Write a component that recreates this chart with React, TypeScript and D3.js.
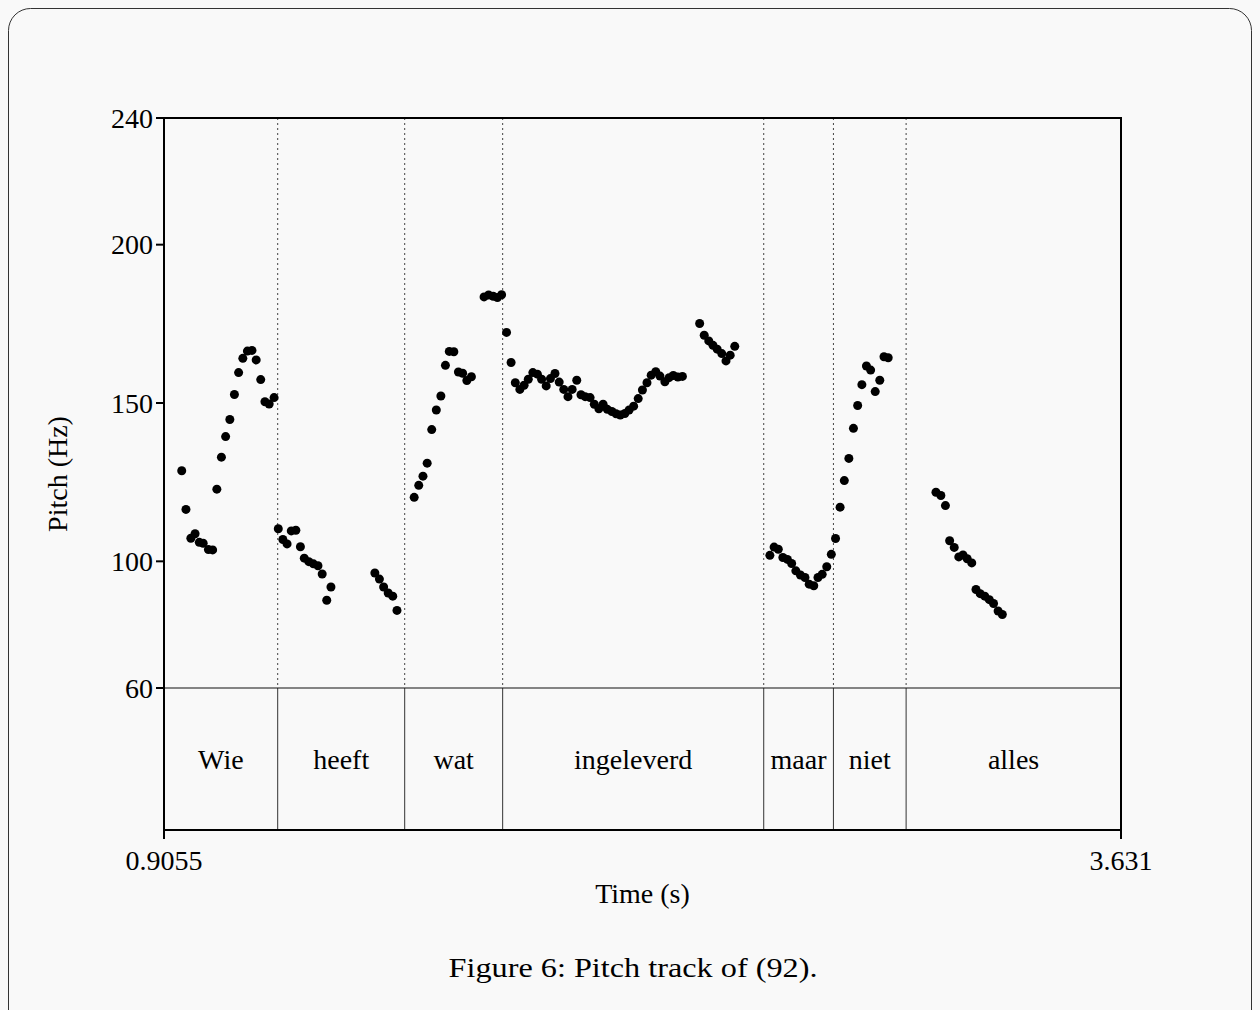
import React from "react";
import * as d3 from "d3";

// pitch track samples: [time (s), pitch (Hz)]
const pitchWie = [
  [0.956, 128.6], [0.968, 116.4], [0.982, 107.3], [0.994, 108.7], [1.006, 106.0],
  [1.017, 105.7], [1.032, 103.7], [1.044, 103.6], [1.056, 122.8], [1.069, 132.9],
  [1.081, 139.4], [1.093, 144.8], [1.106, 152.7], [1.118, 159.6], [1.130, 164.1],
  [1.143, 166.4], [1.156, 166.6], [1.168, 163.6], [1.181, 157.4], [1.193, 150.4],
  [1.205, 149.7], [1.219, 151.7],
];
const pitchHeeft = [
  [1.231, 110.3], [1.244, 106.9], [1.256, 105.5], [1.268, 109.6], [1.281, 109.8],
  [1.294, 104.6], [1.305, 101.0], [1.318, 99.9], [1.331, 99.2], [1.344, 98.6],
  [1.356, 96.0], [1.369, 87.7], [1.381, 91.9],
  [1.506, 96.3], [1.519, 94.4], [1.531, 91.9], [1.544, 90.0], [1.557, 89.0],
  [1.569, 84.5],
];
const pitchWat = [
  [1.618, 120.2], [1.631, 124.0], [1.643, 126.9], [1.655, 131.0], [1.668, 141.6],
  [1.681, 147.8], [1.694, 152.2], [1.707, 161.9], [1.718, 166.3], [1.731, 166.2],
  [1.744, 159.8], [1.756, 159.4], [1.768, 157.1], [1.781, 158.3],
  [1.817, 183.5], [1.830, 184.1], [1.843, 183.7], [1.855, 183.3], [1.867, 184.2],
];
const pitchIngeleverd = [
  [1.881, 172.3], [1.894, 162.8], [1.906, 156.4], [1.919, 154.3], [1.931, 155.6],
  [1.943, 157.5], [1.956, 159.6], [1.969, 159.1], [1.981, 157.5], [1.994, 155.4],
  [2.006, 157.7], [2.019, 159.3], [2.031, 156.6], [2.044, 154.3], [2.056, 152.0],
  [2.068, 154.3], [2.081, 157.2], [2.093, 152.6], [2.105, 152.0], [2.119, 151.7],
  [2.131, 149.6], [2.144, 148.2], [2.156, 149.6], [2.168, 148.0], [2.181, 147.3],
  [2.193, 146.6], [2.205, 146.2], [2.218, 146.7], [2.230, 147.8], [2.243, 149.0],
  [2.256, 151.4], [2.268, 154.1], [2.281, 156.4], [2.293, 158.8], [2.306, 159.9],
  [2.318, 158.5], [2.332, 156.7], [2.344, 158.0], [2.356, 158.7], [2.369, 158.2],
  [2.382, 158.4],
  [2.431, 175.1], [2.444, 171.4], [2.457, 169.6], [2.469, 168.2], [2.481, 167.0],
  [2.494, 165.6], [2.506, 163.3], [2.518, 165.1], [2.531, 167.9],
];
const pitchMaar = [
  [2.631, 101.9], [2.643, 104.5], [2.655, 103.8], [2.668, 101.2], [2.681, 100.6],
  [2.693, 99.3], [2.705, 97.0], [2.718, 95.7], [2.731, 94.9], [2.743, 92.8],
  [2.756, 92.3], [2.768, 94.9], [2.780, 95.9], [2.793, 98.3], [2.806, 102.2],
];
const pitchNiet = [
  [2.818, 107.2], [2.831, 117.1], [2.843, 125.5], [2.856, 132.5], [2.869, 142.0],
  [2.881, 149.2], [2.893, 155.8], [2.906, 161.7], [2.918, 160.4], [2.931, 153.6],
  [2.944, 157.2], [2.956, 164.6], [2.968, 164.3],
];
const pitchAlles = [
  [3.104, 121.8], [3.118, 120.8], [3.131, 117.6], [3.143, 106.5], [3.156, 104.4],
  [3.169, 101.4], [3.181, 102.0], [3.193, 100.8], [3.206, 99.5], [3.218, 91.1],
  [3.230, 89.8], [3.243, 89.0], [3.256, 87.9], [3.268, 86.7], [3.281, 84.3],
  [3.293, 83.2],
];

const words = ["Wie", "heeft", "wat", "ingeleverd", "maar", "niet", "alles"];
const boundaries = [0.9055, 1.2293, 1.591, 1.870, 2.6135, 2.812, 3.019, 3.631];
const yTicks = [60, 100, 150, 200, 240];
const xTicks = [0.9055, 3.631];

const App = () => {
  const width = 1260,
    height = 1010;
  const left = 164,
    right = 1121,
    top = 118,
    tierTop = 688,
    bottom = 830;

  const x = d3.scaleLinear().domain([0.9055, 3.631]).range([left, right]);
  const y = d3.scaleLinear().domain([60, 240]).range([tierTop, top]);

  const points = [
    ...pitchWie,
    ...pitchHeeft,
    ...pitchWat,
    ...pitchIngeleverd,
    ...pitchMaar,
    ...pitchNiet,
    ...pitchAlles,
  ];
  const font = "'Liberation Serif', 'Times New Roman', serif";
  const inner = boundaries.slice(1, -1);

  return (
    <div style={{ position: "absolute", left: 0, top: 0 }}>
      <svg width={width} height={height} style={{ display: "block", background: "#f9f9f9" }}>
        <rect x={8.5} y={8.5} width={1243} height={1040} rx={22} fill="#f9f9f9" stroke="#333" strokeWidth={1} />

        {/* dotted boundaries in the pitch panel */}
        {inner.map((b, i) => (
          <line key={"d" + i} x1={x(b)} x2={x(b)} y1={top} y2={tierTop}
            stroke="#444" strokeWidth={1} strokeDasharray="2,3" />
        ))}
        {/* solid boundaries in the tier */}
        {inner.map((b, i) => (
          <line key={"s" + i} x1={x(b)} x2={x(b)} y1={tierTop} y2={bottom}
            stroke="#333" strokeWidth={1} />
        ))}
        <line x1={left} x2={right} y1={tierTop} y2={tierTop} stroke="#111" strokeWidth={1.2} />

        {/* frame */}
        <rect x={left} y={top} width={right - left} height={bottom - top}
          fill="none" stroke="#000" strokeWidth={2} />

        {yTicks.map((t) => (
          <g key={"y" + t}>
            <line x1={left - 8} x2={left} y1={y(t)} y2={y(t)} stroke="#000" strokeWidth={2} />
            <text x={left - 11} y={y(t)} dy="0.35em" textAnchor="end" fontFamily={font} fontSize={28}>
              {t}
            </text>
          </g>
        ))}
        {xTicks.map((t) => (
          <g key={"x" + t}>
            <line x1={x(t)} x2={x(t)} y1={bottom} y2={bottom + 9} stroke="#000" strokeWidth={2} />
            <text x={x(t)} y={870} textAnchor="middle" fontFamily={font} fontSize={28}>
              {t}
            </text>
          </g>
        ))}

        {points.map((d, i) => (
          <circle key={"p" + i} cx={x(d[0])} cy={y(d[1])} r={4.5} fill="#000" />
        ))}

        {words.map((w, i) => (
          <text key={w} x={(x(boundaries[i]) + x(boundaries[i + 1])) / 2} y={769}
            textAnchor="middle" fontFamily={font} fontSize={28}>
            {w}
          </text>
        ))}

        <text x={(left + right) / 2} y={903} textAnchor="middle" fontFamily={font} fontSize={28}>
          Time (s)
        </text>
        <text transform={`translate(67,474) rotate(-90)`} textAnchor="middle"
          fontFamily={font} fontSize={28}>
          Pitch (Hz)
        </text>

        <text x={633} y={977} textAnchor="middle" fontFamily={font} fontSize={27}
          textLength={369} lengthAdjust="spacingAndGlyphs" fill="#000">
          Figure 6: Pitch track of (92).
        </text>
      </svg>
    </div>
  );
};

export default App;
